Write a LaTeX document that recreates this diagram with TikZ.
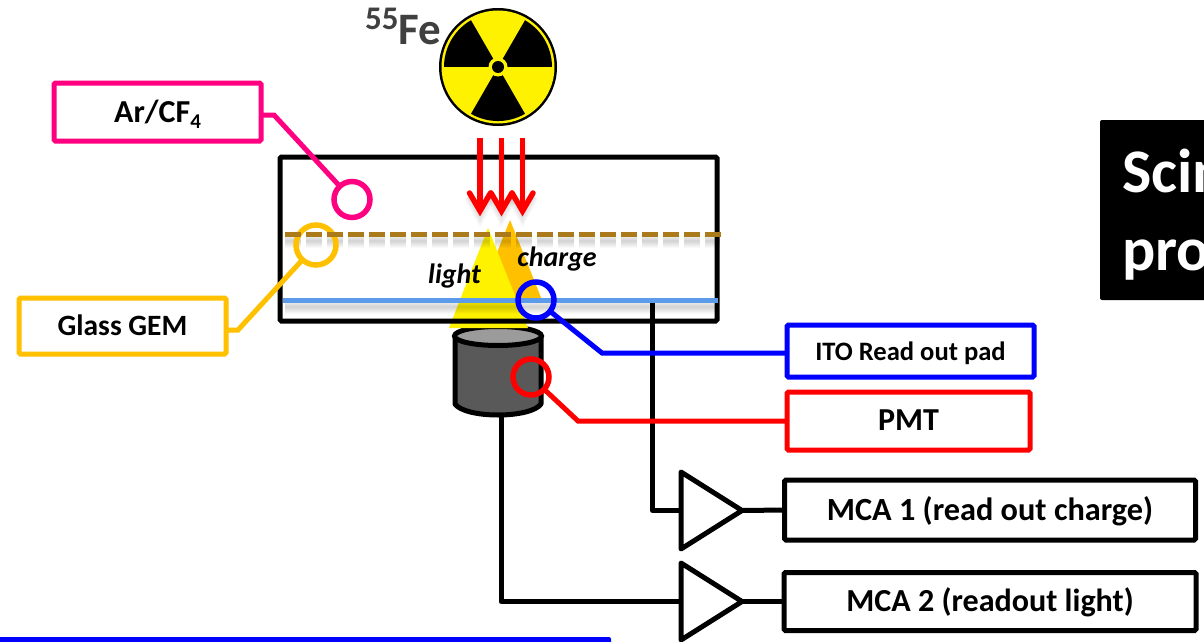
\documentclass[tikz,border=0pt]{standalone}
\usepackage{fontspec}
\setmainfont{Carlito}
\usetikzlibrary{shapes.geometric}
\definecolor{pinkc}{HTML}{FF0080}
\definecolor{goldc}{HTML}{FFC000}
\definecolor{brownc}{HTML}{AB7A1A}
\definecolor{skyc}{HTML}{5B9BEA}
\definecolor{bodyc}{HTML}{595959}
\definecolor{capc}{HTML}{9B9B9B}
\definecolor{txtc}{HTML}{404040}
\tikzset{
  x=1pt,y=-1pt,
  labelbox/.style={draw=#1,line width=5pt,rounded corners=1.5pt,fill=white,inner sep=0pt,outer sep=0pt,align=center,font=\bfseries,text depth=0pt},
  ring/.style={draw=#1,line width=5.5pt,circle,inner sep=0pt,outer sep=0pt,minimum size=36pt},
  lead/.style={draw=#1,line width=5pt,line join=miter},
  wire/.style={draw=black,line width=5pt,line join=round},
  amp/.style={draw=black,line width=5pt,fill=white,isosceles triangle,isosceles triangle stretches,shape border rotate=0,inner sep=0pt,outer sep=0pt,minimum height=61pt,minimum width=77pt,anchor=lower side,line join=round},
  soft/.style={draw=black,opacity=0.022,line cap=butt},
  ray/.style={draw=red,line width=5.5pt},
  rayhead/.style={draw=red,line width=5.5pt,line join=miter,line cap=round},
}
\begin{document}
\begin{tikzpicture}
\useasboundingbox (0,0) rectangle (1204,642);
\clip (0,0) rectangle (1204,642);
\fill[white] (0,0) rectangle (1204,642);
% side title
\fill[black,rounded corners=2pt] (1100,120) rectangle (1230,300);
\node[anchor=base west,text=white,font=\bfseries\fontsize{62}{62}\selectfont,inner sep=0pt] (ttla) at (1122,192) {Scin};
\node[anchor=base west,text=white,font=\bfseries\fontsize{62}{62}\selectfont,inner sep=0pt] (ttlb) at (1122,270) {pro};
% bottom bar
\fill[blue,rounded corners=2pt] (-10,637) rectangle (611,660);
% source
\node[anchor=base west,text=txtc,font=\bfseries\fontsize{45}{45}\selectfont,inner sep=0pt] (fe) at (398,45) {Fe};
\node[anchor=base west,text=txtc,font=\bfseries\fontsize{33}{33}\selectfont,inner sep=0pt] (mass) at (365,30) {55};
\fill[black] (498,67) circle (59);
\fill[yellow] (498,67) circle (56.5);
\fill[black] (498,67) -- (552,67) arc[start angle=0,end angle=-60,radius=54] -- cycle;
\fill[black] (498,67) -- (444,67) arc[start angle=180,end angle=240,radius=54] -- cycle;
\fill[black] (498,67) -- (525,113.8) arc[start angle=60,end angle=120,radius=54] -- cycle;
\fill[yellow] (498,67) circle (9.5);
\fill[black] (498,67) circle (6);
% PMT
\coordinate (pmtout) at (501,415);
\coordinate (tap) at (652.5,303);
\node[amp] (ampa) at (681,510.5) {};
\node[amp] (ampb) at (681,601.5) {};
\draw[wire] (pmtout) |- (ampb.lower side);
\draw[wire] (tap) |- (ampa.lower side);
\filldraw[fill=bodyc,draw=black,line width=5pt,line join=round] (455,337) -- (455,404) .. controls (460,411) and (478,415) .. (498,415) .. controls (518,415) and (536,411) .. (541,404) -- (541,337) -- cycle;
\filldraw[fill=capc,draw=black,line width=5pt] (498,336) ellipse (43.5 and 9.5);
% light and charge cones
\fill[goldc] (510,220) -- (542,300) -- (478,300) -- cycle;
\fill[yellow] (488,228) -- (528,328) -- (449,328) -- cycle;
% shadows of the inner lines
\foreach \w in {2,4,6,8,10,12,14}{
  \draw[soft,line width=\w pt] (285,307) -- (718,307);
  \draw[soft,line width=\w pt,dash pattern=on 16pt off 5pt] (285,241) -- (720,241);
}
% chamber
\draw[black,line width=5pt,rounded corners=1.5pt] (280,157) rectangle (717,321);
\node[ring=goldc,minimum size=40pt] (rgem) at (316,245) {};
\draw[brownc,line width=5.5pt,dash pattern=on 16pt off 5pt] (285,234.5) -- (721,234.5);
\draw[skyc,line width=5pt] (283,300) -- (718,300);
% rays
\foreach \x in {480,501.5,522.5}{
  \foreach \w in {2,4,6,8}{
    \draw[soft,line width=\w pt] (\x,142) -- (\x,212);
    \draw[soft,line width=\w pt] (\x-12,197) -- (\x,219) -- (\x+12,197);
  }
}
\foreach \x in {480,501.5,522.5}{
  \draw[ray] (\x,138) -- (\x,212);
  \draw[rayhead] (\x-10.5,193) -- (\x,211) -- (\x+10.5,193);
}
% text in the chamber
\node[font=\bfseries\itshape\fontsize{28}{28}\selectfont,inner sep=0pt] (lighttxt) at (454.5,276) {light};
\node[font=\bfseries\itshape\fontsize{28}{28}\selectfont,inner sep=0pt] (chargetxt) at (557,259.5) {charge};
% labels
\node[labelbox=pinkc,minimum width=207pt,minimum height=58pt,text height=21.4pt,font=\bfseries\fontsize{32}{32}\selectfont] (ar) at (157.5,112) {Ar/CF\raisebox{-6pt}{\fontsize{21}{21}\selectfont 4}};
\node[labelbox=goldc,minimum width=207pt,minimum height=56pt,text height=19.4pt,font=\bfseries\fontsize{29.5}{29.5}\selectfont] (gem) at (122.5,326) {Glass GEM};
\node[labelbox=blue,minimum width=247pt,minimum height=52pt,text height=18pt,font=\bfseries\fontsize{26.6}{26.6}\selectfont] (ito) at (910.5,351) {ITO Read out pad};
\node[labelbox=red,minimum width=243pt,minimum height=58pt,text height=19.4pt,font=\bfseries\fontsize{32}{32}\selectfont] (pmt) at (908.5,421) {PMT};
\node[labelbox=black,minimum width=411pt,minimum height=60pt,text height=20pt,font=\bfseries\fontsize{32.3}{32.3}\selectfont] (mcaa) at (990,510) {MCA 1 (read out charge)};
\node[labelbox=black,minimum width=412pt,minimum height=58pt,text height=20.4pt,font=\bfseries\fontsize{32.1}{32.1}\selectfont] (mcab) at (990,601.5) {MCA 2 (readout light)};
% rings
\node[ring=pinkc] (rar) at (352,199.5) {};
\node[ring=blue] (rito) at (536,300) {};
\node[ring=red] (rpmt) at (531,377) {};
\coordinate (kar) at (274,115);
\coordinate (kgem) at (238,330);
\coordinate (kito) at (602,353);
\coordinate (kpmt) at (578,421);
\draw[lead=pinkc] (ar.east |- kar) -- (kar) -- (rar);
\draw[lead=goldc] (gem.east |- kgem) -- (kgem) -- (rgem);
\draw[lead=blue] (ito.west |- kito) -- (kito) -- (rito);
\draw[lead=red] (pmt.west) -- (kpmt) -- (rpmt);
% amplifier outputs
\draw[wire] (ampa.apex) -- (mcaa.west);
\draw[wire] (ampb.apex) -- (mcab.west);
\end{tikzpicture}
\end{document}
